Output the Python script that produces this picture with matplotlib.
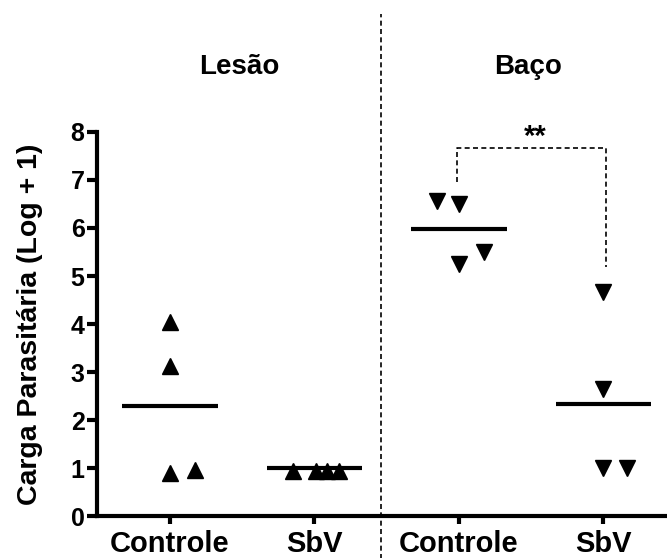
import numpy as np
import matplotlib
matplotlib.use('Agg')
import matplotlib.pyplot as plt

plt.rcParams['font.family'] = ['Liberation Sans', 'DejaVu Sans']
plt.rcParams['font.weight'] = 'bold'

# data
categories = ['Controle', 'SbV', 'Controle', 'SbV']
lesao_controle = [4.04, 3.12, 0.90, 0.96]
lesao_sbv = [0.94, 0.94, 0.94, 0.94]
baco_controle = [6.57, 6.49, 5.51, 5.26]
baco_sbv = [4.67, 2.64, 0.99, 0.99]
means = [2.30, 1.01, 5.98, 2.33]
yticks = [0, 1, 2, 3, 4, 5, 6, 7, 8]

# horizontal scatter of the dots (GraphPad style)
jitter = [[0, 0, 0, 0.17],
          [-0.15, 0.01, 0.09, 0.17],
          [-0.15, 0.0, 0.17, 0.0],
          [0, 0, 0, 0.16]]

series = [lesao_controle, lesao_sbv, baco_controle, baco_sbv]
markers = ['^', '^', 'v', 'v']

fig = plt.figure(figsize=(6.67, 5.58), dpi=100)
ax = fig.add_axes([97/667, 42/558, 570/667, 384/558])

for i, vals in enumerate(series):
    xs = i + np.array(jitter[i])
    ax.plot(xs, vals, linestyle='none', marker=markers[i], ms=11.5,
            color='black', clip_on=False, zorder=3)
    ax.plot([i - 0.33, i + 0.33], [means[i], means[i]], color='black',
            lw=3, solid_capstyle='butt', zorder=2)

ax.set_xlim(-0.505, 3.44)
ax.set_ylim(0, 8)
ax.set_yticks(yticks)
ax.set_xticks(range(len(categories)))
ax.set_xticklabels(categories, fontsize=21, fontweight='bold')
ax.set_yticklabels([str(t) for t in yticks], fontsize=18, fontweight='bold')
ax.set_ylabel('Carga Parasitária (Log + 1)', fontsize=20.5, fontweight='bold',
              labelpad=20)

for s in ['top', 'right']:
    ax.spines[s].set_visible(False)
for s in ['left', 'bottom']:
    ax.spines[s].set_linewidth(3)
ax.tick_params(axis='both', width=3, direction='out')
ax.tick_params(axis='y', length=7, pad=2)
ax.tick_params(axis='x', length=6, pad=4)

# separator between Lesão and Baço
ax.plot([1.46, 1.46], [-0.9, 10.45], color='black', lw=1.2,
        linestyle=(0, (3, 2)), clip_on=False)

ax.text(0.48, 9.35, 'Lesão', ha='center', va='center', fontsize=20,
        fontweight='bold')
ax.text(2.48, 9.35, 'Baço', ha='center', va='center', fontsize=20,
        fontweight='bold')

# significance bracket
ax.plot([1.99, 1.99, 3.02, 3.02], [6.96, 7.67, 7.67, 5.19], color='black',
        lw=1.2, linestyle=(0, (3, 2)), clip_on=False)
ax.text(2.53, 7.9, '**', ha='center', va='center', fontsize=21,
        fontweight='bold')

fig.savefig('out.png', dpi=100)
